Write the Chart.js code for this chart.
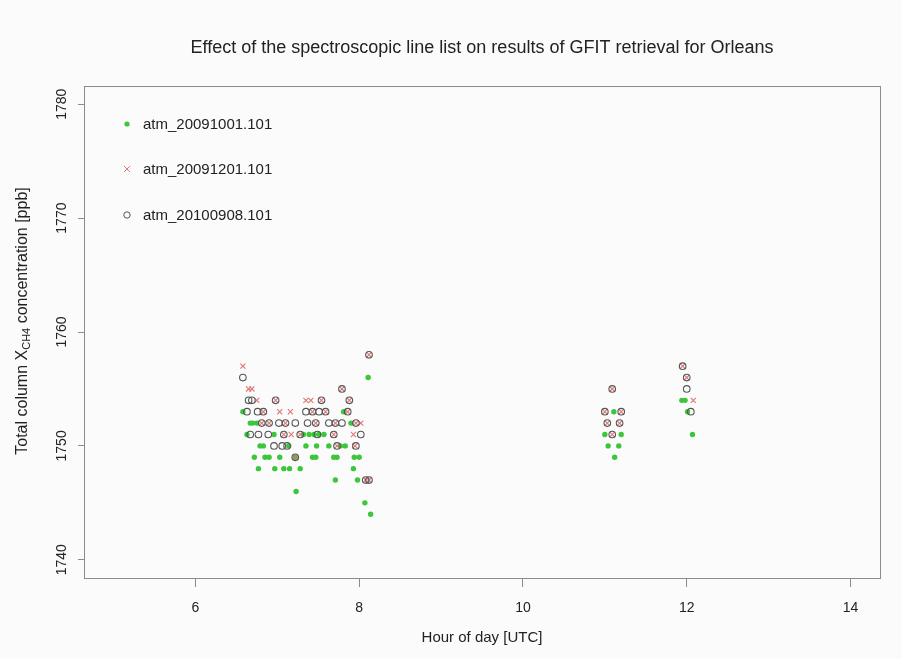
<!DOCTYPE html>
<html>
<head>
<meta charset="utf-8">
<script src="https://cdn.jsdelivr.net/npm/chart.js@4/dist/chart.umd.min.js"></script>
<style>
  body { margin: 0; background: #fbfbfb; }
  #wrap { width: 902px; height: 659px; }
</style>
</head>
<body>
<div id="wrap"><canvas id="myChart" width="902" height="659"></canvas></div>
<script>
const chartTitle = 'Effect of the spectroscopic line list on results of GFIT retrieval for Orleans';
// series names (legend)
const seriesNames = ['atm_20091001.101', 'atm_20091201.101', 'atm_20100908.101'];

// atm_20091001.101 (green dots)
const greenHours = [6.58, 6.63, 6.67, 6.70, 6.72, 6.75, 6.77, 6.79, 6.83, 6.85, 6.90, 6.96, 6.97,
  7.03, 7.08, 7.14, 7.15, 7.22, 7.23, 7.28, 7.32, 7.35, 7.39, 7.43, 7.45, 7.47, 7.48, 7.51, 7.57,
  7.63, 7.69, 7.71, 7.73, 7.77, 7.81, 7.83, 7.90, 7.93, 7.94, 7.98, 8.00, 8.07, 8.11, 8.14,
  11.00, 11.04, 11.11, 11.12, 11.17, 11.20, 11.94, 11.98, 12.01, 12.07];
const greenValues = [1753, 1751, 1752, 1752, 1749, 1752, 1748, 1750, 1750, 1749, 1749, 1751, 1748,
  1749, 1748, 1750, 1748, 1749, 1746, 1748, 1751, 1750, 1751, 1749, 1751, 1749, 1750, 1751, 1751,
  1750, 1749, 1747, 1749, 1750, 1753, 1750, 1752, 1748, 1749, 1747, 1749, 1745, 1756, 1744,
  1751, 1750, 1753, 1749, 1750, 1751, 1754, 1754, 1753, 1751];

// atm_20091201.101 (red crosses)
const redHours = [6.58, 6.65, 6.69, 6.75, 6.81, 6.83, 6.90, 6.98, 7.03, 7.08, 7.10, 7.16, 7.17,
  7.22, 7.28, 7.35, 7.41, 7.43, 7.47, 7.54, 7.59, 7.69, 7.71, 7.73, 7.79, 7.86, 7.88, 7.93,
  7.95, 7.96, 8.02, 8.08, 8.12, 8.12,
  11.00, 11.03, 11.09, 11.09, 11.18, 11.20, 11.95, 12.00, 12.08];
const redValues = [1757, 1755, 1755, 1754, 1752, 1753, 1752, 1754, 1753, 1751, 1752, 1753, 1751,
  1749, 1751, 1754, 1754, 1753, 1752, 1754, 1753, 1751, 1752, 1750, 1755, 1753, 1754, 1751,
  1750, 1752, 1752, 1747, 1747, 1758,
  1753, 1752, 1755, 1751, 1752, 1753, 1757, 1756, 1754];

// atm_20100908.101 (open circles)
const circleHours = [6.58, 6.63, 6.65, 6.67, 6.69, 6.76, 6.77, 6.81, 6.83, 6.89, 6.90, 6.96, 6.98,
  7.02, 7.06, 7.08, 7.10, 7.12, 7.22, 7.22, 7.28, 7.35, 7.37, 7.43, 7.47, 7.49, 7.51, 7.54, 7.59,
  7.63, 7.69, 7.71, 7.73, 7.79, 7.79, 7.86, 7.88, 7.96, 7.96, 8.02, 8.08, 8.12, 8.12,
  11.00, 11.03, 11.09, 11.09, 11.18, 11.20, 11.95, 12.00, 12.00, 12.05];
const circleValues = [1756, 1753, 1754, 1751, 1754, 1753, 1751, 1752, 1753, 1751, 1752, 1750, 1754,
  1752, 1750, 1751, 1752, 1750, 1752, 1749, 1751, 1753, 1752, 1753, 1752, 1751, 1753, 1754, 1753,
  1752, 1751, 1752, 1750, 1755, 1752, 1753, 1754, 1752, 1750, 1751, 1747, 1747, 1758,
  1753, 1752, 1755, 1751, 1752, 1753, 1757, 1756, 1755, 1753];

const xTicks = [6, 8, 10, 12, 14];
const yTicks = [1740, 1750, 1760, 1770, 1780];

const FONT = "'Liberation Sans', Arial, Helvetica, sans-serif";
const GREEN = '#3cc63c';
const RED = '#e07575';
const GREY = '#555555';

const toPoints = (hours, values) => hours.map((h, i) => ({x: h, y: values[i]}));

// title, box, rotated y labels, y title with subscript and legend, R style
const rAxesPlugin = {
    id: 'rAxes',
    afterDraw(chart) {
        const ctx = chart.ctx;
        const area = chart.chartArea;
        const yScale = chart.scales.y;
        ctx.save();

        ctx.fillStyle = '#222';
        ctx.font = '18px ' + FONT;
        ctx.textAlign = 'center';
        ctx.textBaseline = 'middle';
        ctx.fillText(chartTitle, (area.left + area.right) / 2, 48);

        ctx.strokeStyle = '#8c8c8c';
        ctx.lineWidth = 1;
        ctx.strokeRect(Math.round(area.left) + 0.5, Math.round(area.top) + 0.5,
            Math.round(area.right - area.left), Math.round(area.bottom - area.top));

        ctx.font = '14px ' + FONT;
        yTicks.forEach(v => {
            const py = yScale.getPixelForValue(v);
            ctx.save();
            ctx.translate(62, py);
            ctx.rotate(-Math.PI / 2);
            ctx.fillText(String(v), 0, 0);
            ctx.restore();
        });

        // y title: Total column X_CH4 concentration [ppb]
        const part1 = 'Total column X';
        const sub = 'CH4';
        const part2 = ' concentration [ppb]';
        ctx.font = '16px ' + FONT;
        const w1 = ctx.measureText(part1).width;
        const w3 = ctx.measureText(part2).width;
        ctx.font = '11px ' + FONT;
        const w2 = ctx.measureText(sub).width;
        const total = w1 + w2 + w3;
        ctx.save();
        ctx.translate(21, 321);
        ctx.rotate(-Math.PI / 2);
        ctx.textAlign = 'left';
        ctx.textBaseline = 'alphabetic';
        let sx = -total / 2;
        ctx.font = '16px ' + FONT;
        ctx.fillText(part1, sx, 6);
        sx += w1;
        ctx.font = '11px ' + FONT;
        ctx.fillText(sub, sx, 9);
        sx += w2;
        ctx.font = '16px ' + FONT;
        ctx.fillText(part2, sx, 6);
        ctx.restore();

        // legend
        const legendY = [124, 169, 215];
        ctx.font = '15px ' + FONT;
        ctx.textAlign = 'left';
        ctx.textBaseline = 'middle';
        seriesNames.forEach((name, i) => {
            const mx = 127, my = legendY[i];
            if (i === 0) {
                ctx.fillStyle = GREEN;
                ctx.beginPath();
                ctx.arc(mx, my, 2.6, 0, Math.PI * 2);
                ctx.fill();
            } else if (i === 1) {
                ctx.strokeStyle = RED;
                ctx.lineWidth = 1;
                ctx.beginPath();
                ctx.moveTo(mx - 3, my - 3); ctx.lineTo(mx + 3, my + 3);
                ctx.moveTo(mx - 3, my + 3); ctx.lineTo(mx + 3, my - 3);
                ctx.stroke();
            } else {
                ctx.strokeStyle = GREY;
                ctx.lineWidth = 1;
                ctx.beginPath();
                ctx.arc(mx, my, 3.2, 0, Math.PI * 2);
                ctx.stroke();
            }
            ctx.fillStyle = '#222';
            ctx.fillText(name, 143, my + 1);
        });
        ctx.restore();
    }
};

const data = {
    datasets: [
        {
            label: seriesNames[0],
            data: toPoints(greenHours, greenValues),
            pointStyle: 'circle',
            pointRadius: 2.7,
            backgroundColor: GREEN,
            borderColor: GREEN,
            borderWidth: 0,
            order: 3
        },
        {
            label: seriesNames[1],
            data: toPoints(redHours, redValues),
            pointStyle: 'crossRot',
            pointRadius: 3.6,
            borderColor: RED,
            borderWidth: 1.1,
            order: 2
        },
        {
            label: seriesNames[2],
            data: toPoints(circleHours, circleValues),
            pointStyle: 'circle',
            pointRadius: 3.3,
            backgroundColor: 'rgba(0,0,0,0)',
            borderColor: GREY,
            borderWidth: 1.1,
            order: 1
        }
    ]
};

const config = {
    type: 'scatter',
    data: data,
    options: {
        responsive: false,
        animation: false,
        layout: { padding: { left: 0, right: 22, top: 86, bottom: 0 } },
        plugins: {
            legend: { display: false },
            tooltip: { enabled: false },
            title: { display: false }
        },
        scales: {
            x: {
                type: 'linear',
                min: 4.64,
                max: 14.36,
                afterBuildTicks: scale => { scale.ticks = xTicks.map(v => ({value: v})); },
                afterFit: scale => { scale.height = 81; },
                border: { display: false },
                grid: { drawOnChartArea: false, drawTicks: true, tickLength: 9, color: '#8c8c8c' },
                ticks: { color: '#222', font: { family: FONT, size: 14 }, padding: 13, maxRotation: 0 },
                title: {
                    display: true,
                    text: 'Hour of day [UTC]',
                    color: '#222',
                    font: { family: FONT, size: 15 },
                    padding: { top: 0, bottom: 12 }
                }
            },
            y: {
                type: 'linear',
                min: 1738.4,
                max: 1781.6,
                afterBuildTicks: scale => { scale.ticks = yTicks.map(v => ({value: v})); },
                afterFit: scale => { scale.width = 84; },
                border: { display: false },
                grid: { drawOnChartArea: false, drawTicks: true, tickLength: 6, color: '#8c8c8c' },
                ticks: { display: false }
            }
        }
    },
    plugins: [rAxesPlugin]
};

const myChart = new Chart(document.getElementById('myChart'), config);
</script>
</body>
</html>
